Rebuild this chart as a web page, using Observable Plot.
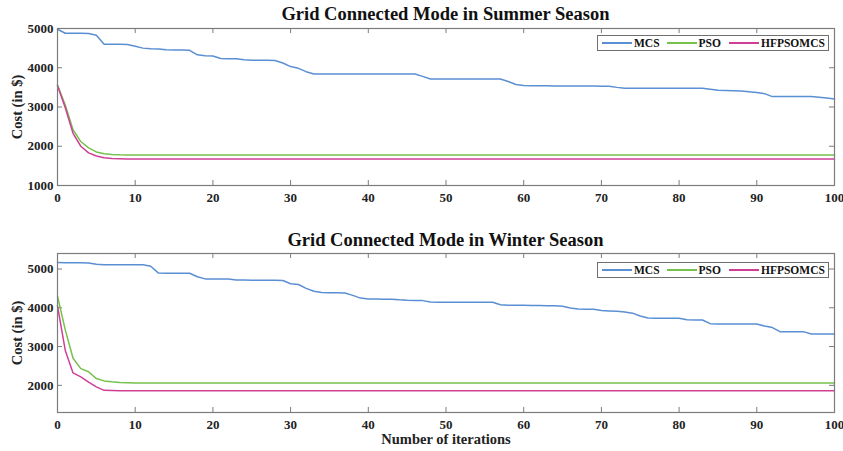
<!DOCTYPE html>
<html><head><meta charset="utf-8">
<script src="https://cdn.jsdelivr.net/npm/d3@7"></script>
<script src="https://cdn.jsdelivr.net/npm/@observablehq/plot@0.6"></script>
<style>
body{margin:0;background:#fff;font-family:"Liberation Serif","Times New Roman",serif;}
.panel{position:relative;width:843px;}
.title{position:absolute;left:57px;width:777px;text-align:center;font-weight:bold;font-size:18.5px;color:#111;line-height:20px;font-family:"Liberation Serif",serif;}
.legend{position:absolute;border:1px solid #6f6f6f;background:#fff;display:flex;align-items:center;font-weight:bold;font-size:11.5px;color:#111;height:14px;padding:0 3px 0 4px;white-space:nowrap;font-family:"Liberation Serif",serif;}
.sw{display:inline-block;width:30px;height:1.6px;}
</style>
</head><body>
<div id="root"></div>
<script>
// ---------- data ----------
const seriesNames = ["MCS", "PSO", "HFPSOMCS"];
const seriesColors = ["#5b8fd3", "#74c24c", "#cf3f96"];
const xTicks = [0, 10, 20, 30, 40, 50, 60, 70, 80, 90, 100];
const summerYTicks = [1000, 2000, 3000, 4000, 5000];
const winterYTicks = [2000, 3000, 4000, 5000];

const summerMCS = [4980,4880,4880,4880,4875,4830,4600,4600,4600,4590,
  4550,4500,4485,4475,4460,4450,4450,4445,4330,4305,
  4300,4235,4230,4230,4205,4190,4190,4190,4185,4120,
  4030,3985,3900,3840,3840,3840,3840,3840,3840,3840,
  3840,3840,3840,3840,3840,3840,3840,3780,3715,3715,
  3715,3715,3715,3715,3715,3715,3715,3715,3650,3575,
  3545,3540,3540,3540,3538,3536,3535,3535,3533,3532,
  3530,3530,3500,3478,3478,3478,3478,3478,3478,3478,
  3478,3478,3478,3478,3450,3425,3420,3415,3410,3390,
  3370,3340,3265,3265,3265,3265,3265,3265,3250,3230,3205];
const summerPSO = [3560,3050,2420,2120,1960,1855,1810,1790,1782,1780,
  1780,1780,1780,1780,1780,1780,1780,1780,1780,1780,
  1780,1780,1780,1780,1780,1780,1780,1780,1780,1780,
  1780,1780,1780,1780,1780,1780,1780,1780,1780,1780,
  1780,1780,1780,1780,1780,1780,1780,1780,1780,1780,
  1780,1780,1780,1780,1780,1780,1780,1780,1780,1780,
  1780,1780,1780,1780,1780,1780,1780,1780,1780,1780,
  1780,1780,1780,1780,1780,1780,1780,1780,1780,1780,
  1780,1780,1780,1780,1780,1780,1780,1780,1780,1780,
  1780,1780,1780,1780,1780,1780,1780,1780,1780,1780,1780];
const summerHF = [3540,2980,2330,2000,1830,1750,1705,1688,1680,1676,
  1675,1675,1675,1675,1675,1675,1675,1675,1675,1675,
  1675,1675,1675,1675,1675,1675,1675,1675,1675,1675,
  1675,1675,1675,1675,1675,1675,1675,1675,1675,1675,
  1675,1675,1675,1675,1675,1675,1675,1675,1675,1675,
  1675,1675,1675,1675,1675,1675,1675,1675,1675,1675,
  1675,1675,1675,1675,1675,1675,1675,1675,1675,1675,
  1675,1675,1675,1675,1675,1675,1675,1675,1675,1675,
  1675,1675,1675,1675,1675,1675,1675,1675,1675,1675,
  1675,1675,1675,1675,1675,1675,1675,1675,1675,1675,1675];

const winterMCS = [5170,5160,5160,5160,5155,5120,5110,5110,5110,5110,
  5110,5110,5070,4895,4890,4890,4890,4890,4800,4745,
  4745,4745,4745,4718,4715,4712,4710,4710,4708,4705,
  4620,4600,4500,4425,4395,4390,4385,4380,4320,4250,
  4228,4225,4222,4220,4205,4195,4190,4185,4150,4145,
  4145,4145,4145,4145,4145,4145,4145,4080,4068,4065,
  4063,4060,4058,4055,4050,4040,3995,3968,3965,3960,
  3928,3920,3912,3890,3862,3790,3738,3732,3730,3730,
  3728,3692,3688,3685,3590,3582,3582,3582,3582,3582,
  3582,3530,3490,3385,3385,3385,3385,3325,3325,3325,3325];
const winterPSO = [4300,3430,2700,2430,2350,2175,2115,2090,2072,2065,
  2062,2060,2060,2060,2060,2060,2060,2060,2060,2060,
  2060,2060,2060,2060,2060,2060,2060,2060,2060,2060,
  2060,2060,2060,2060,2060,2060,2060,2060,2060,2060,
  2060,2060,2060,2060,2060,2060,2060,2060,2060,2060,
  2060,2060,2060,2060,2060,2060,2060,2060,2060,2060,
  2060,2060,2060,2060,2060,2060,2060,2060,2060,2060,
  2060,2060,2060,2060,2060,2060,2060,2060,2060,2060,
  2060,2060,2060,2060,2060,2060,2060,2060,2060,2060,
  2060,2060,2060,2060,2060,2060,2060,2060,2060,2060,2060];
const winterHF = [4050,2900,2320,2220,2085,1960,1872,1865,1862,1860,
  1860,1860,1860,1860,1860,1860,1860,1860,1860,1860,
  1860,1860,1860,1860,1860,1860,1860,1860,1860,1860,
  1860,1860,1860,1860,1860,1860,1860,1860,1860,1860,
  1860,1860,1860,1860,1860,1860,1860,1860,1860,1860,
  1860,1860,1860,1860,1860,1860,1860,1860,1860,1860,
  1860,1860,1860,1860,1860,1860,1860,1860,1860,1860,
  1860,1860,1860,1860,1860,1860,1860,1860,1860,1860,
  1860,1860,1860,1860,1860,1860,1860,1860,1860,1860,
  1860,1860,1860,1860,1860,1860,1860,1860,1860,1860,1860];

// ---------- drawing ----------
const W = 843, ML = 57, MR = 9;
const axisColor = "#7c7c7c";
const font = "Liberation Serif, Times New Roman, serif";
const blank = () => "";

function makePanel({title, series, yDomain, yTicks, height, mt, mb, xLabel, titleTop, legendTop}) {
  const rows = [];
  series.forEach((vals, s) => vals.forEach((v, i) => rows.push({iter: i, cost: v, name: seriesNames[s]})));
  const plotH = height - mt - mb, plotW = W - ML - MR, tk = 5;
  const tickText = {tickSize: 0, fontSize: 13, fontWeight: "bold", fill: "#222", fontFamily: font, tickFormat: "d", label: null};
  const labelText = {tickSize: 0, fontSize: 14.5, fontWeight: "bold", fill: "#222", fontFamily: font, tickFormat: blank, labelArrow: "none", labelAnchor: "center"};
  const marks = [
    Plot.axisX(xTicks, {...tickText, tickPadding: 7}),
    Plot.axisY(yTicks, {...tickText, tickPadding: 4}),
    Plot.axisY(yTicks, {...labelText, label: "Cost (in $)", labelOffset: 46}),
    Plot.tickX(xTicks, {x: d => d, insetTop: plotH - tk, stroke: axisColor}),
    Plot.tickX(xTicks, {x: d => d, insetBottom: plotH - tk, stroke: axisColor}),
    Plot.tickY(yTicks, {y: d => d, insetRight: plotW - tk, stroke: axisColor}),
    Plot.tickY(yTicks, {y: d => d, insetLeft: plotW - tk, stroke: axisColor}),
    Plot.line(rows, {x: "iter", y: "cost", z: "name", stroke: "name", strokeWidth: 1.5}),
    Plot.frame({stroke: axisColor, strokeWidth: 1.2})
  ];
  if (xLabel) marks.push(Plot.axisX(xTicks, {...labelText, label: xLabel, labelOffset: 31}));
  const chart = Plot.plot({
    width: W, height, marginLeft: ML, marginRight: MR, marginTop: mt, marginBottom: mb,
    style: {fontFamily: font, background: "#fff", overflow: "visible"},
    x: {domain: [0, 100]},
    y: {domain: yDomain},
    color: {domain: seriesNames, range: seriesColors},
    marks
  });
  const div = document.createElement("div");
  div.className = "panel";
  div.style.height = height + "px";
  div.appendChild(chart);
  const t = document.createElement("div");
  t.className = "title";
  t.style.top = titleTop + "px";
  t.textContent = title;
  div.appendChild(t);
  const lg = document.createElement("div");
  lg.className = "legend";
  lg.style.left = "597px";
  lg.style.top = legendTop + "px";
  const gaps = [[0, 2], [7, 2], [8, 2]];
  seriesNames.forEach((n, i) => {
    const sw = document.createElement("span");
    sw.className = "sw";
    sw.style.background = seriesColors[i];
    sw.style.marginLeft = gaps[i][0] + "px";
    sw.style.marginRight = gaps[i][1] + "px";
    const tx = document.createElement("span");
    tx.textContent = n;
    lg.appendChild(sw); lg.appendChild(tx);
  });
  div.appendChild(lg);
  return div;
}

const root = document.getElementById("root");
root.appendChild(makePanel({
  title: "Grid Connected Mode in Summer Season",
  series: [summerMCS, summerPSO, summerHF],
  yDomain: [1000, 5000], yTicks: summerYTicks,
  height: 225, mt: 28, mb: 40, xLabel: null, titleTop: 4, legendTop: 35
}));
root.appendChild(makePanel({
  title: "Grid Connected Mode in Winter Season",
  series: [winterMCS, winterPSO, winterHF],
  yDomain: [1300, 5400], yTicks: winterYTicks,
  height: 226, mt: 28, mb: 39, xLabel: "Number of iterations", titleTop: 5, legendTop: 37
}));
</script>
</body></html>
